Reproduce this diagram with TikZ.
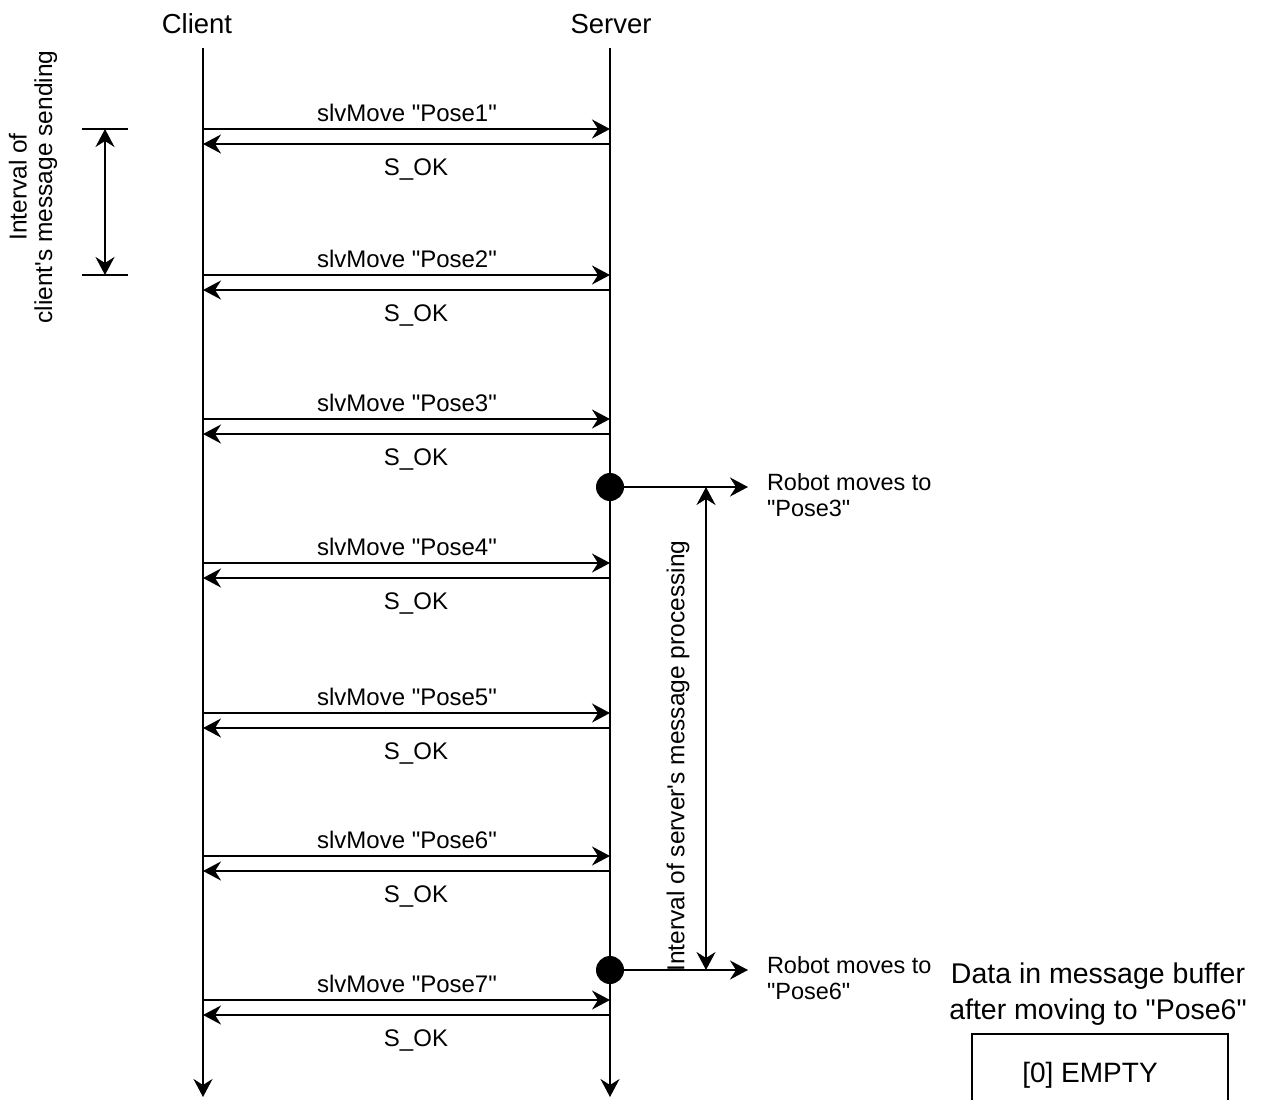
\documentclass[tikz,border=0pt]{standalone}
\usepackage{fontspec}
\setmainfont{Liberation Sans}[Ligatures=TeXOff]
\usetikzlibrary{arrows.meta}
\begin{document}
\begin{tikzpicture}[x=1pt,y=-1pt,line width=2pt,
  tip/.style={-{Stealth[length=18pt,width=19pt,inset=6pt]}},
  dtip/.style={{Stealth[length=18pt,width=19pt,inset=6pt]}-{Stealth[length=18pt,width=19pt,inset=6pt]}},
  title/.style={font=\fontsize{27.5}{32}\selectfont,inner sep=0pt,anchor=base},
  lbl/.style={font=\fontsize{24}{27}\selectfont,inner sep=0pt,anchor=base},
  big/.style={font=\fontsize{28.5}{36}\selectfont,inner sep=0pt,align=center},
  dot/.style={circle,fill=black,inner sep=0pt,minimum size=28pt}]
\clip (0,0) rectangle (1264,1100);
% lifelines
\node[title] (client) at (197,33) {Client};
\node[title] (server) at (611,33) {Server};
\coordinate (ct) at (203,48);
\coordinate (cb) at (203,1097);
\coordinate (st) at (610,48);
\coordinate (sb) at (610,1097);
\draw[tip] (ct) -- (cb);
\draw[tip] (st) -- (sb);
% messages
\foreach \i/\y in {1/129,2/275,3/419,4/563,5/713,6/856,7/1000}{
  \coordinate (cf\i) at (203,\y);
  \coordinate (sf\i) at (610,\y);
  \coordinate (cr\i) at (203,\y+15);
  \coordinate (sr\i) at (610,\y+15);
  \draw[tip] (cf\i) -- (sf\i);
  \draw[tip] (sr\i) -- (cr\i);
  \node[lbl] (m\i) at (407,\y-8) {slvMove "Pose\i"};
  \node[lbl] (ok\i) at (416,\y+46) {S\_OK};
}
% client interval
\coordinate (t1a) at (82,129);
\coordinate (t1b) at (128,129);
\coordinate (t2a) at (82,275);
\coordinate (t2b) at (128,275);
\draw (t1a) -- (t1b);
\draw (t2a) -- (t2b);
\coordinate (ci1) at (105,129);
\coordinate (ci2) at (105,275);
\draw[dtip] (ci1) -- (ci2);
\node[lbl,anchor=center,rotate=90,align=center,font=\fontsize{24.5}{25.5}\selectfont] (cilbl) at (33,187) {Interval of\\client's message sending};
% server events
\node[dot] (d1) at (610,487) {};
\node[dot] (d2) at (610,970) {};
\coordinate (e1) at (748,487);
\coordinate (e2) at (748,970);
\draw[tip] (d1.center) -- (e1);
\draw[tip] (d2.center) -- (e2);
\coordinate (si1) at (706,487);
\coordinate (si2) at (706,970);
\draw[dtip] (si1) -- (si2);
\node[lbl,anchor=center,rotate=90,font=\fontsize{24.5}{27}\selectfont] (silbl) at (678,756) {Interval of server's message processing};
\node[lbl,anchor=west,align=left,font=\fontsize{23.5}{26}\selectfont] (r1) at (766,495) {Robot moves to\\"Pose3"};
\node[lbl,anchor=west,align=left,font=\fontsize{23.5}{26}\selectfont] (r2) at (766,978) {Robot moves to\\"Pose6"};
% buffer
\node[big] (buf) at (1098,994) {Data in message buffer\\after moving to "Pose6"};
\node[draw,minimum width=256pt,minimum height=100pt,anchor=north,inner sep=0pt] (box) at (1100,1033) {};
\node[lbl,font=\fontsize{28}{30}\selectfont] (empty) at (1090,1082) {[0] EMPTY};
\end{tikzpicture}
\end{document}
